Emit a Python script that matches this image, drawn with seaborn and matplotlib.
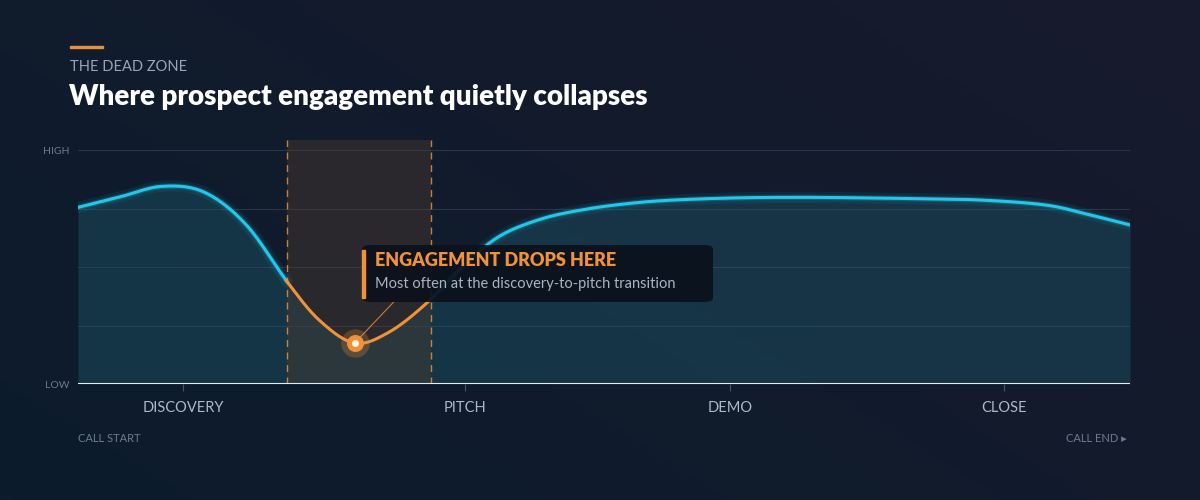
import matplotlib
matplotlib.use("Agg")
import matplotlib.pyplot as plt
import seaborn as sns
import numpy as np
from matplotlib.patches import FancyBboxPatch, Rectangle

# engagement curve (x: 0-100 call progress, y: 0-100 engagement)
call_pos = [0, 4, 8, 12, 16, 20, 23, 26.3, 29.5, 33, 36.5, 40, 44, 48, 52, 56, 62, 68, 74, 80, 86, 92, 96, 100]
engagement = [75.5, 80, 84.5, 82, 68, 43, 27, 17.5, 22, 34, 50, 63, 70.5, 74.5, 77, 78.5, 79.5, 79.8, 79.6, 79.2,
              78.6, 76.5, 72.5, 68]
stage_labels = ["DISCOVERY", "PITCH", "DEMO", "CLOSE"]
stage_pos = [10, 36.8, 62, 88]
dead_zone = (19.9, 33.6)
min_point = (26.3, 17.5)

def catmull(xs, ys, n=30):
    xs, ys = np.asarray(xs, float), np.asarray(ys, float)
    px = np.concatenate([[2 * xs[0] - xs[1]], xs, [2 * xs[-1] - xs[-2]]])
    py = np.concatenate([[2 * ys[0] - ys[1]], ys, [2 * ys[-1] - ys[-2]]])
    ox, oy = [], []
    t = np.linspace(0, 1, n, endpoint=False)
    for i in range(1, len(px) - 2):
        for arr, out in ((px, ox), (py, oy)):
            p0, p1, p2, p3 = arr[i - 1], arr[i], arr[i + 1], arr[i + 2]
            out.extend(0.5 * (2 * p1 + (-p0 + p2) * t + (2 * p0 - 5 * p1 + 4 * p2 - p3) * t**2
                              + (-p0 + 3 * p1 - 3 * p2 + p3) * t**3))
    ox.append(xs[-1]); oy.append(ys[-1])
    return np.array(ox), np.array(oy)

sns.set_theme(style="dark")
plt.rcParams["font.family"] = ["Lato", "DejaVu Sans"]

fig = plt.figure(figsize=(12, 5), dpi=100)
bg = fig.add_axes([0, 0, 1, 1], zorder=-10)
gx, gy = np.meshgrid(np.linspace(0, 1, 200), np.linspace(0, 1, 100))
g = 0.6 * gx + 0.4 * (1 - gy)
bg.imshow(g, cmap=matplotlib.colors.LinearSegmentedColormap.from_list("bg", ["#0c1c2c", "#171a2c"]),
          aspect="auto", extent=[0, 1, 0, 1])
bg.axis("off")

ax = fig.add_axes([0.065, 0.232, 0.8767, 0.488])
ax.set_facecolor("none")
sx, sy = catmull(call_pos, engagement)
ax.set_xlim(0, 100)
ax.set_ylim(0, 104.3)

for yv in [25, 50, 75, 100]:
    ax.axhline(yv, color="#2a3648", lw=0.8, zorder=1)

ax.fill_between(sx, 0, sy, color="#1d5a6c", alpha=0.42, lw=0, zorder=2)
ax.add_patch(Rectangle((dead_zone[0], 0), dead_zone[1] - dead_zone[0], 104.3,
                       color="#4a3a30", alpha=0.45, lw=0, zorder=2))
for xv in dead_zone:
    ax.axvline(xv, color="#e8903c", lw=1, ls=(0, (5, 4)), alpha=0.85, zorder=3)

inside = (sx >= dead_zone[0]) & (sx <= dead_zone[1])
for lw, a in [(8, 0.08), (4, 0.2)]:
    ax.plot(sx, np.where(inside, np.nan, sy), color="#22c8ea", lw=lw, alpha=a, zorder=4)
ax.plot(sx, np.where(inside, np.nan, sy), color="#22c8ea", lw=2.2, zorder=5)
mask = (sx >= dead_zone[0] - 0.2) & (sx <= dead_zone[1] + 0.2)
ax.plot(sx[mask], sy[mask], color="#f0923a", lw=2.2, zorder=5)

ax.scatter([min_point[0]], [min_point[1]], s=420, color="#f0923a", alpha=0.25, lw=0, zorder=6)
ax.scatter([min_point[0]], [min_point[1]], s=150, color="#f0923a", lw=0, zorder=7)
ax.scatter([min_point[0]], [min_point[1]], s=25, color="#fff4ea", lw=0, zorder=8)
ax.plot([min_point[0], 30.1], [min_point[1], 35.5], color="#f0923a", lw=0.8, alpha=0.8, zorder=6)

ax.axhline(0, color="#e6ebf2", lw=1.5, zorder=6)
ax.set_xticks(stage_pos)
ax.set_xticklabels(stage_labels, color="#aeb8c8", fontsize=10.5)
ax.tick_params(axis="x", length=5, width=0.8, color="#4a5566", pad=7, bottom=True)
ax.set_yticks([0, 100])
ax.set_yticklabels(["LOW", "HIGH"], color="#6f7a8c", fontsize=7.5)
ax.tick_params(axis="y", length=0, pad=6)
ax.grid(False)
for s in ax.spines.values():
    s.set_visible(False)

# annotation box
fig.patches.append(FancyBboxPatch((362 / 1200, 1 - 302 / 500), 351 / 1200, 57 / 500,
                                  boxstyle="round,pad=0,rounding_size=0.008", transform=fig.transFigure,
                                  facecolor="#0b111c", edgecolor="none", alpha=0.93, zorder=20))
fig.patches.append(Rectangle((362 / 1200, 1 - 298 / 500), 3 / 1200, 48 / 500,
                             transform=fig.transFigure, color="#f0923a", zorder=21))
fig.text(375 / 1200, 1 - 261 / 500, "ENGAGEMENT DROPS HERE", color="#f0923a", fontsize=13,
         fontweight="heavy", va="center", zorder=22)
fig.text(375 / 1200, 1 - 284 / 500, "Most often at the discovery-to-pitch transition", color="#aab3c2",
         fontsize=10.5, va="center", zorder=22)

# header
fig.patches.append(Rectangle((70 / 1200, 1 - 48 / 500), 33 / 1200, 2.5 / 500,
                             transform=fig.transFigure, color="#e8903c"))
fig.text(70 / 1200, 1 - 67 / 500, "THE DEAD ZONE", color="#9aa6b8", fontsize=10.5, va="center")
fig.text(69 / 1200, 1 - 97 / 500, "Where prospect engagement quietly collapses", color="white",
         fontsize=20, fontweight="heavy", va="center")
fig.text(78 / 1200, 1 - 438 / 500, "CALL START", color="#6f7a8c", fontsize=8, va="center")
fig.text(1127 / 1200, 1 - 438 / 500, "CALL END ▸", color="#6f7a8c", fontsize=8, va="center", ha="right",
         family=["Lato", "DejaVu Sans"])

fig.savefig("out.png", dpi=100)
